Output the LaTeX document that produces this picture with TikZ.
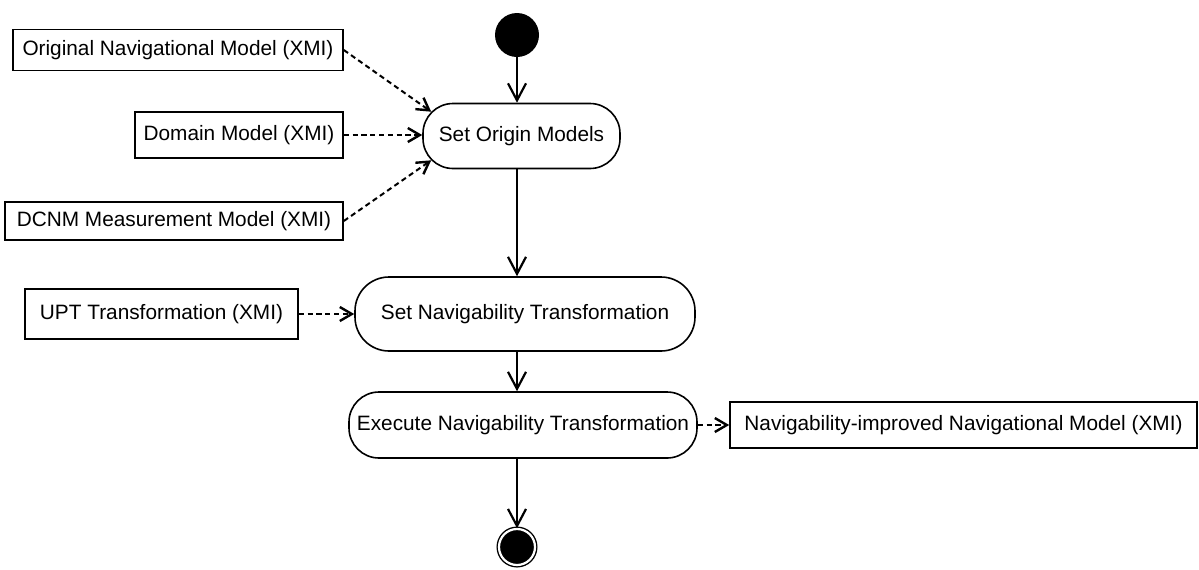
\documentclass[tikz,border=0pt]{standalone}
\usepackage{fontspec}
\setmainfont{Liberation Sans}
\usetikzlibrary{arrows.meta,calc}

\tikzset{
  artifact/.style={draw, line width=0.8pt, inner sep=0pt, font=\fontsize{10.4}{12}\selectfont},
  action/.style={draw, line width=0.8pt, inner sep=0pt, rounded corners=15pt, font=\fontsize{10.4}{12}\selectfont},
  flow/.style={line width=1pt, -{Straight Barb[length=8.5pt,width=9pt,line width=1.1pt]}},
  objflow/.style={line width=1pt, dash pattern=on 2.6pt off 1.8pt, -{Straight Barb[length=6pt,width=7pt,line width=1.2pt]}},
}

\begin{document}
\begin{tikzpicture}[x=0.5pt, y=-0.5pt]
  \useasboundingbox (0,0) rectangle (1199,569);

  % initial and final states
  \node (start) [circle, fill=black, inner sep=0pt, minimum size=22pt] at (517,35) {};
  \node (final) [circle, fill=black, draw=black, line width=0.7pt, double=white, double distance=1.1pt,
                 inner sep=0pt, minimum size=18pt] at (517,547) {};

  % actions
  \node (so)  [action, minimum width=98.5pt, minimum height=32.5pt] at (521.5,136) {Set Origin Models};
  \node (snt) [action, minimum width=170pt, minimum height=37pt, rounded corners=17pt] at (525,314) {Set Navigability Transformation};
  \node (ent) [action, minimum width=174pt, minimum height=33pt] at (523,425) {Execute Navigability Transformation};

  % input and output models
  \node (orig) [artifact, minimum width=165pt, minimum height=20.5pt] at (178,50) {Original Navigational Model (XMI)};
  \node (dom)  [artifact, minimum width=104pt, minimum height=23pt] at (239,135) {Domain Model (XMI)};
  \node (dcnm) [artifact, minimum width=169pt, minimum height=19pt] at (174,221) {DCNM Measurement Model (XMI)};
  \node (upt)  [artifact, minimum width=136.5pt, minimum height=25pt] at (161.5,314) {UPT Transformation (XMI)};
  \node (nim)  [artifact, minimum width=233.5pt, minimum height=23pt] at (963.5,425) {Navigability-improved Navigational Model (XMI)};

  % control flow
  \draw[flow] (start.south) -- (start.south |- so.north);
  \draw[flow] (so.south -| start) -- (snt.north -| start);
  \draw[flow] (snt.south -| start) -- (ent.north -| start);
  \draw[flow] (ent.south -| start) -- (final.north);

  % object flow
  \draw[objflow] (orig.east) -- ($(so.north west)+(9,9)$);
  \draw[objflow] (dom.east) -- (dom.east -| so.west);
  \draw[objflow] (dcnm.east) -- ($(so.south west)+(9,-9)$);
  \draw[objflow] (upt.east) -- (upt.east -| snt.west);
  \draw[objflow] (ent.east) -- (nim.west);
\end{tikzpicture}
\end{document}
